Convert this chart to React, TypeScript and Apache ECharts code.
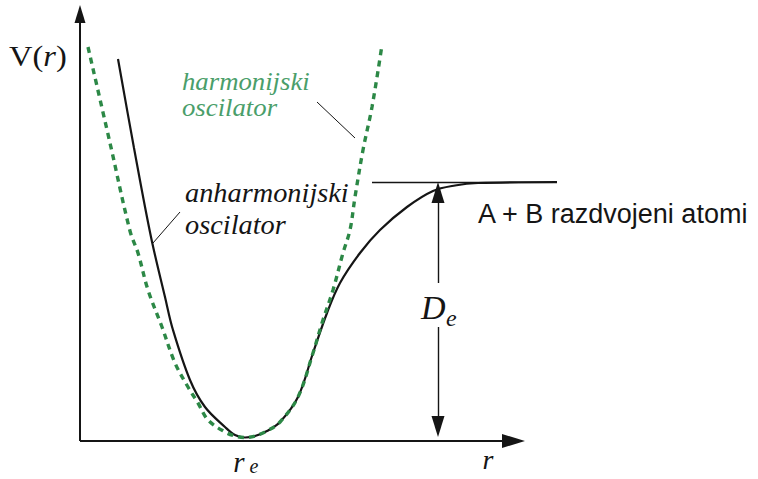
import React, { useEffect, useRef } from "react";
import * as echarts from "echarts";

// Anharmonic (Morse-like) potential curve: separation r vs potential V(r)
const morseR = [0.38, 0.54, 0.71, 0.85, 0.93, 1.1, 1.25, 1.45, 1.55, 1.65, 1.75, 1.87, 2.0, 2.18, 2.33, 2.47, 2.6, 2.8, 3.0, 3.27, 3.53, 3.75, 3.98, 4.77];
const morseV = [3.82, 2.93, 2.04, 1.44, 1.11, 0.61, 0.34, 0.14, 0.06, 0.035, 0.05, 0.1, 0.19, 0.44, 0.88, 1.28, 1.58, 1.88, 2.11, 2.34, 2.5, 2.555, 2.58, 2.59];

// Harmonic (parabolic) approximation around the minimum
const harmR = [0.08, 0.3, 0.5, 0.58, 0.68, 0.82, 0.95, 1.08, 1.18, 1.28, 1.45, 1.55, 1.65, 1.75, 1.87, 2.0, 2.18, 2.33, 2.42, 2.53, 2.63, 2.7, 2.75, 2.83, 2.92, 3.02];
const harmV = [3.94, 2.98, 2.1, 1.88, 1.51, 1.14, 0.78, 0.54, 0.38, 0.21, 0.09, 0.05, 0.035, 0.05, 0.1, 0.19, 0.44, 0.88, 1.18, 1.51, 1.88, 2.11, 2.44, 2.91, 3.34, 3.96];

// Key quantities of the diagram
const De = 2.59; // dissociation energy (asymptote level)
const re = 1.65; // equilibrium separation
const deArrowR = 3.58; // where the D_e arrow is drawn
const asymptoteFromR = 2.92;
const asymptoteToR = 4.77;
const rAxisMax = 4.45;
const vAxisMax = 4.36;

// Plot extents
const X_MAX = 4.78;
const Y_MAX = 4.36;
const PX_PER_UNIT = 100;

const SERIF = "'Liberation Serif', 'DejaVu Serif', serif";
const SANS = "'Liberation Sans', Arial, sans-serif";
const GREEN_TEXT = "#4a9e6a";
const GREEN_LINE = "#2c8846";
const INK = "#151515";

const toPairs = (xs: number[], ys: number[]) => xs.map((x, i) => [x, ys[i]]);

export default function App() {
  const ref = useRef<HTMLDivElement>(null);

  useEffect(() => {
    if (!ref.current) return;
    const chart = echarts.init(ref.current, undefined, { renderer: "svg" });

    const px = (p: number) => p / PX_PER_UNIT;
    const axisArrowX: [number, number] = [14, 23];
    const axisArrowY: [number, number] = [11, 18];
    const deArrow: [number, number] = [13, 21];
    const labelV = De * 0.525;
    const gapHalf = px(22);

    const solid = (width: number) => ({ type: "solid" as const, color: INK, width });

    chart.setOption({
      animation: false,
      grid: { left: 80, top: 5, width: X_MAX * PX_PER_UNIT, height: Y_MAX * PX_PER_UNIT },
      xAxis: { type: "value", min: 0, max: X_MAX, show: false },
      yAxis: { type: "value", min: 0, max: Y_MAX, show: false },
      series: [
        {
          type: "line",
          name: "anharmonijski oscilator",
          data: toPairs(morseR, morseV),
          smooth: 0.35,
          showSymbol: false,
          clip: false,
          silent: true,
          lineStyle: { color: INK, width: 2.2 },
          z: 3,
          markLine: {
            silent: true,
            animation: false,
            label: { show: false },
            emphasis: { disabled: true },
            symbol: ["none", "none"],
            lineStyle: solid(2),
            data: [
              // r axis
              [
                { coord: [0, 0], symbol: "none", lineStyle: solid(2) },
                { coord: [rAxisMax - px(axisArrowX[1] / 2), 0], symbol: "triangle", symbolSize: axisArrowX },
              ],
              // V axis
              [
                { coord: [0, 0], symbol: "none", lineStyle: solid(2) },
                { coord: [0, vAxisMax - px(axisArrowY[1] / 2)], symbol: "triangle", symbolSize: axisArrowY },
              ],
              // dissociation asymptote
              [
                { coord: [asymptoteFromR, De], symbol: "none", lineStyle: solid(1.4) },
                { coord: [asymptoteToR, De], symbol: "none" },
              ],
              // D_e double arrow, lower part
              [
                { coord: [deArrowR, labelV - gapHalf], symbol: "none", lineStyle: solid(1.4) },
                { coord: [deArrowR, 0.04 + px(deArrow[1] / 2)], symbol: "triangle", symbolSize: deArrow },
              ],
              // D_e double arrow, upper part
              [
                { coord: [deArrowR, labelV + gapHalf], symbol: "none", lineStyle: solid(1.4) },
                { coord: [deArrowR, De - px(deArrow[1] / 2)], symbol: "triangle", symbolSize: deArrow },
              ],
            ],
          },
        },
        {
          type: "line",
          name: "harmonijski oscilator",
          data: toPairs(harmR, harmV),
          smooth: 0.35,
          showSymbol: false,
          clip: false,
          silent: true,
          lineStyle: { color: GREEN_LINE, width: 3.4, type: [6, 5] },
          z: 4,
        },
      ],
      graphic: [
        {
          type: "text",
          x: 9,
          y: 57,
          z: 100,
          scaleX: 1.12,
          style: {
            text: "{n|V(}{i|r}{n|)}",
            verticalAlign: "middle",
            rich: {
              n: { fontFamily: SERIF, fontSize: 29, fill: INK },
              i: { fontFamily: SERIF, fontSize: 29, fontStyle: "italic", fill: INK },
            },
          },
        },
        {
          type: "text",
          x: 182,
          y: 95,
          z: 100,
          scaleX: 1.07,
          style: {
            text: "harmonijski\noscilator",
            fontFamily: SERIF,
            fontStyle: "italic",
            fontSize: 25,
            lineHeight: 26,
            fill: GREEN_TEXT,
            verticalAlign: "middle",
          },
        },
        {
          type: "line",
          z: 100,
          shape: { x1: 317, y1: 102, x2: 355, y2: 138 },
          style: { stroke: INK, lineWidth: 1 },
        },
        {
          type: "text",
          x: 185,
          y: 209,
          z: 100,
          scaleX: 1.05,
          style: {
            text: "anharmonijski\noscilator",
            fontFamily: SERIF,
            fontStyle: "italic",
            fontSize: 27,
            lineHeight: 32,
            fill: INK,
            verticalAlign: "middle",
          },
        },
        {
          type: "line",
          z: 100,
          shape: { x1: 180, y1: 212, x2: 153, y2: 243 },
          style: { stroke: INK, lineWidth: 1 },
        },
        {
          type: "text",
          x: 478,
          y: 214,
          z: 100,
          style: {
            text: "A + B razdvojeni atomi",
            fontFamily: SANS,
            fontSize: 27,
            fill: INK,
            verticalAlign: "middle",
          },
        },
        {
          type: "text",
          x: 421,
          y: 307,
          z: 100,
          style: {
            text: "D",
            fontFamily: SERIF,
            fontStyle: "italic",
            fontSize: 34,
            fill: INK,
            verticalAlign: "middle",
          },
        },
        {
          type: "text",
          x: 446,
          y: 318,
          z: 100,
          style: {
            text: "e",
            fontFamily: SERIF,
            fontStyle: "italic",
            fontSize: 24,
            fill: INK,
            verticalAlign: "middle",
          },
        },
        {
          type: "text",
          x: 80 + re * PX_PER_UNIT - 6,
          y: 462,
          z: 100,
          style: {
            text: "r",
            fontFamily: SERIF,
            fontStyle: "italic",
            fontSize: 29,
            fill: INK,
            align: "center",
            verticalAlign: "middle",
          },
        },
        {
          type: "text",
          x: 80 + re * PX_PER_UNIT + 9,
          y: 466,
          z: 100,
          style: {
            text: "e",
            fontFamily: SERIF,
            fontStyle: "italic",
            fontSize: 20,
            fill: INK,
            align: "center",
            verticalAlign: "middle",
          },
        },
        {
          type: "text",
          x: 488,
          y: 459,
          z: 100,
          style: {
            text: "r",
            fontFamily: SERIF,
            fontStyle: "italic",
            fontSize: 28,
            fill: INK,
            align: "center",
            verticalAlign: "middle",
          },
        },
      ],
    });

    return () => chart.dispose();
  }, []);

  return (
    <div
      ref={ref}
      style={{ position: "fixed", left: 0, top: 0, width: 758, height: 479, background: "#fff" }}
    />
  );
}
